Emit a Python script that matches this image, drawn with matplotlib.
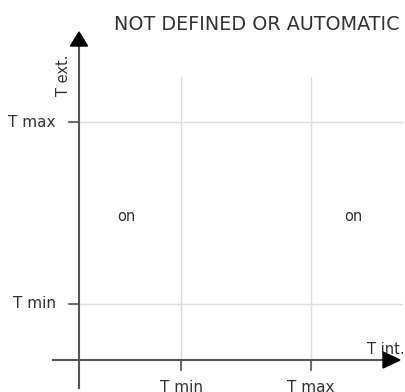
import matplotlib.pyplot as plt
from matplotlib.patches import Polygon

# diagram values (units: px from the origin of the two axes)
tint_labels = ["T min", "T max"]
tint_pos = [102, 232]
text_labels = ["T min", "T max"]
text_pos = [56, 238]
zone_labels = ["on", "on"]
zone_x = [47, 274]
zone_y = [144, 144]
title = "NOT DEFINED OR AUTOMATIC"

axis_col = "#555555"
grid_col = "#dddddd"
txt_col = "#333333"

fig = plt.figure(figsize=(4.06, 3.92), dpi=100)
ax = fig.add_axes([0, 0, 1, 1])
ax.set_xlim(-79, 327)
ax.set_ylim(-32, 360)
ax.axis("off")

# grid lines
for x in tint_pos:
    ax.plot([x, x], [-10, 283], color=grid_col, lw=1, zorder=1)
for y in text_pos:
    ax.plot([-10, 323], [y, y], color=grid_col, lw=1, zorder=1)

# axes
ax.plot([0, 0], [-28, 314], color=axis_col, lw=1.5, zorder=2)
ax.plot([-26, 306], [0, 0], color=axis_col, lw=1.5, zorder=2)
ax.add_patch(Polygon([[-8.5, 314], [8.5, 314], [0, 328]], closed=True, color="black", zorder=3))
ax.add_patch(Polygon([[304, 8], [304, -8], [321, 0]], closed=True, color="black", zorder=3))

# tick marks
for x in tint_pos:
    ax.plot([x, x], [0, -10], color=axis_col, lw=1.2, zorder=2)
for y in text_pos:
    ax.plot([-10, 0], [y, y], color=axis_col, lw=1.2, zorder=2)

# labels
for lab, x in zip(tint_labels, tint_pos):
    ax.text(x, -27, lab, ha="center", va="center", fontsize=11, color=txt_col)
for lab, y in zip(text_labels, text_pos):
    ax.text(-23, y, lab, ha="right", va="center", fontsize=11, color=txt_col)
for lab, x, y in zip(zone_labels, zone_x, zone_y):
    ax.text(x, y, lab, ha="center", va="center", fontsize=10.5, color=txt_col)

ax.text(-16, 285, "T ext.", rotation=90, ha="center", va="center", fontsize=10.5, color=txt_col)
ax.text(307, 10, "T int.", ha="center", va="center", fontsize=10.5, color=txt_col)
ax.text(321, 336, title, ha="right", va="center", fontsize=13.8, color=txt_col)

plt.savefig("out.png", dpi=100)
